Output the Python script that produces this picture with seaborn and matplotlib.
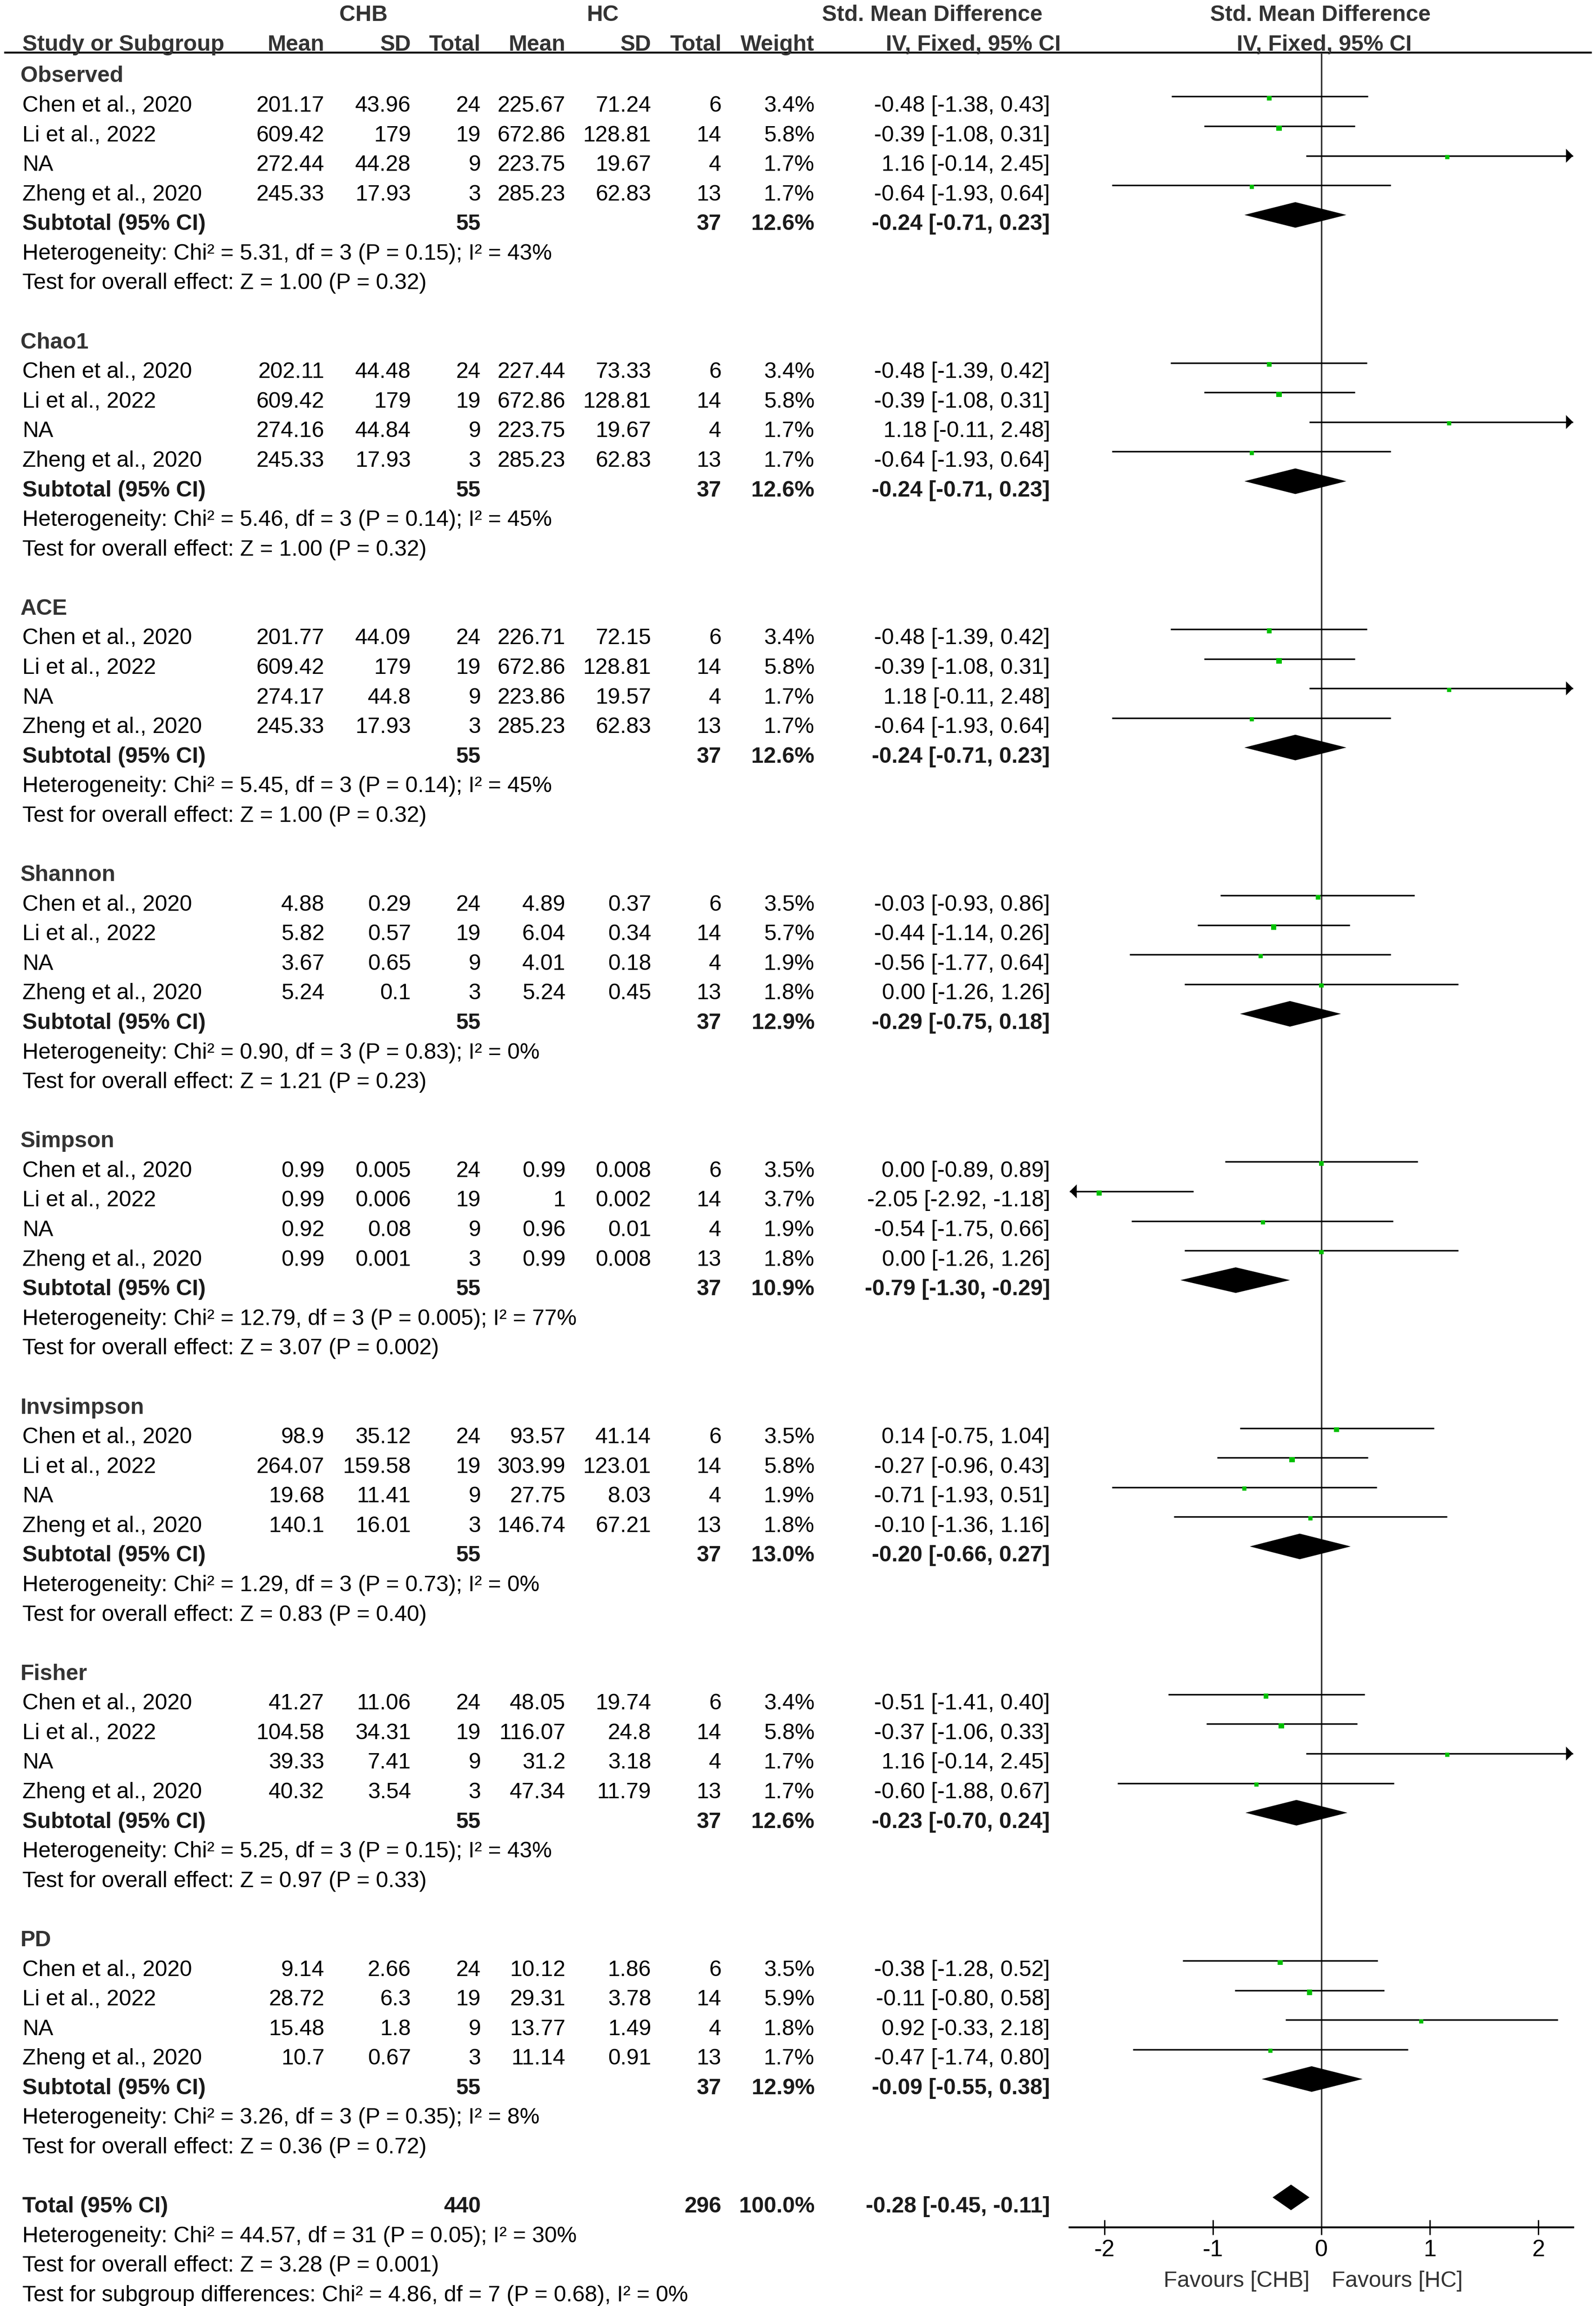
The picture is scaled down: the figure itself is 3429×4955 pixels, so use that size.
import numpy as np
import matplotlib.pyplot as plt
import seaborn as sns

# DATA
groups = ["Observed", "Chao1", "ACE", "Shannon", "Simpson", "Invsimpson", "Fisher", "PD"]
studies = ["Chen et al., 2020", "Li et al., 2022", "NA", "Zheng et al., 2020"]

chb_mean = [[201.17, 609.42, 272.44, 245.33], [202.11, 609.42, 274.16, 245.33],
            [201.77, 609.42, 274.17, 245.33], [4.88, 5.82, 3.67, 5.24],
            [0.99, 0.99, 0.92, 0.99], [98.9, 264.07, 19.68, 140.1],
            [41.27, 104.58, 39.33, 40.32], [9.14, 28.72, 15.48, 10.7]]
chb_sd = [[43.96, 179, 44.28, 17.93], [44.48, 179, 44.84, 17.93],
          [44.09, 179, 44.8, 17.93], [0.29, 0.57, 0.65, 0.1],
          [0.005, 0.006, 0.08, 0.001], [35.12, 159.58, 11.41, 16.01],
          [11.06, 34.31, 7.41, 3.54], [2.66, 6.3, 1.8, 0.67]]
chb_n = [24, 19, 9, 3]
hc_mean = [[225.67, 672.86, 223.75, 285.23], [227.44, 672.86, 223.75, 285.23],
           [226.71, 672.86, 223.86, 285.23], [4.89, 6.04, 4.01, 5.24],
           [0.99, 1, 0.96, 0.99], [93.57, 303.99, 27.75, 146.74],
           [48.05, 116.07, 31.2, 47.34], [10.12, 29.31, 13.77, 11.14]]
hc_sd = [[71.24, 128.81, 19.67, 62.83], [73.33, 128.81, 19.67, 62.83],
         [72.15, 128.81, 19.57, 62.83], [0.37, 0.34, 0.18, 0.45],
         [0.008, 0.002, 0.01, 0.008], [41.14, 123.01, 8.03, 67.21],
         [19.74, 24.8, 3.18, 11.79], [1.86, 3.78, 1.49, 0.91]]
hc_n = [6, 14, 4, 13]

weight = [[3.4, 5.8, 1.7, 1.7], [3.4, 5.8, 1.7, 1.7], [3.4, 5.8, 1.7, 1.7],
          [3.5, 5.7, 1.9, 1.8], [3.5, 3.7, 1.9, 1.8], [3.5, 5.8, 1.9, 1.8],
          [3.4, 5.8, 1.7, 1.7], [3.5, 5.9, 1.8, 1.7]]
smd = [[-0.48, -0.39, 1.16, -0.64], [-0.48, -0.39, 1.18, -0.64],
       [-0.48, -0.39, 1.18, -0.64], [-0.03, -0.44, -0.56, 0.00],
       [0.00, -2.05, -0.54, 0.00], [0.14, -0.27, -0.71, -0.10],
       [-0.51, -0.37, 1.16, -0.60], [-0.38, -0.11, 0.92, -0.47]]
ci_lo = [[-1.38, -1.08, -0.14, -1.93], [-1.39, -1.08, -0.11, -1.93],
         [-1.39, -1.08, -0.11, -1.93], [-0.93, -1.14, -1.77, -1.26],
         [-0.89, -2.92, -1.75, -1.26], [-0.75, -0.96, -1.93, -1.36],
         [-1.41, -1.06, -0.14, -1.88], [-1.28, -0.80, -0.33, -1.74]]
ci_hi = [[0.43, 0.31, 2.45, 0.64], [0.42, 0.31, 2.48, 0.64],
         [0.42, 0.31, 2.48, 0.64], [0.86, 0.26, 0.64, 1.26],
         [0.89, -1.18, 0.66, 1.26], [1.04, 0.43, 0.51, 1.16],
         [0.40, 0.33, 2.45, 0.67], [0.52, 0.58, 2.18, 0.80]]

sub_chb_n = 55
sub_hc_n = 37
sub_weight = [12.6, 12.6, 12.6, 12.9, 10.9, 13.0, 12.6, 12.9]
sub_smd = [-0.24, -0.24, -0.24, -0.29, -0.79, -0.20, -0.23, -0.09]
sub_lo = [-0.71, -0.71, -0.71, -0.75, -1.30, -0.66, -0.70, -0.55]
sub_hi = [0.23, 0.23, 0.23, 0.18, -0.29, 0.27, 0.24, 0.38]
het_chi = ["5.31", "5.46", "5.45", "0.90", "12.79", "1.29", "5.25", "3.26"]
het_p = ["0.15", "0.14", "0.14", "0.83", "0.005", "0.73", "0.15", "0.35"]
het_i2 = ["43", "45", "45", "0", "77", "0", "43", "8"]
z_val = ["1.00", "1.00", "1.00", "1.21", "3.07", "0.83", "0.97", "0.36"]
z_p = ["0.32", "0.32", "0.32", "0.23", "0.002", "0.40", "0.33", "0.72"]

total_chb_n = 440
total_hc_n = 296
total_smd = -0.28
total_lo = -0.45
total_hi = -0.11
total_notes = ["Heterogeneity: Chi\u00b2 = 44.57, df = 31 (P = 0.05); I\u00b2 = 30%",
               "Test for overall effect: Z = 3.28 (P = 0.001)",
               "Test for subgroup differences: Chi\u00b2 = 4.86, df = 7 (P = 0.68), I\u00b2 = 0%"]

x_ticks = [-2, -1, 0, 1, 2]

# STYLE / LAYOUT (pixel units of the 3429 x 4955 canvas)
sns.set_theme(style="white")
plt.rcParams['font.family'] = ['Liberation Sans', 'DejaVu Sans']

W, H = 3429, 4955
FS = 11.5
ROW0, ROWH = 159.4, 63.58
BASE = 17          # baseline offset from text centre
MARK = -15.5       # marks sit a bit above the text centre
X0, UNIT = 2839, 233
XLIM = (-2.32, 2.32)
GREEN = "#00C000"
DARK = "#333333"

col_right = [697, 883, 1033, 1215, 1399, 1550, 1750]
ci_right = 2256


def row_y(r):
    return ROW0 + ROWH * r


def fmt_ci(e, lo, hi):
    return f"{e:.2f} [{lo:.2f}, {hi:.2f}]"


fig = plt.figure(figsize=(W / 300, H / 300), dpi=300)
ax = fig.add_axes([0, 0, 1, 1])
ax.set_xlim(0, W)
ax.set_ylim(H, 0)
ax.axis("off")

left = (X0 + XLIM[0] * UNIT) / W
width = (XLIM[1] - XLIM[0]) * UNIT / W
fa = fig.add_axes([left, 0, width, 1])
fa.set_xlim(*XLIM)
fa.set_ylim(H, 0)
fa.patch.set_alpha(0)


def txt(x, y, s, ha="left", bold=False, color="black", size=FS):
    ax.text(x, y + BASE, s, ha=ha, va="baseline", fontsize=size,
            fontweight="bold" if bold else "normal", color=color)


# header
hy1 = 28
hy2 = 92
txt(781, hy1, "CHB", ha="center", bold=True, color=DARK)
txt(1295, hy1, "HC", ha="center", bold=True, color=DARK)
txt(2240, hy1, "Std. Mean Difference", ha="right", bold=True, color=DARK)
txt(2837, hy1, "Std. Mean Difference", ha="center", bold=True, color=DARK)
txt(48, hy2, "Study or Subgroup", bold=True, color=DARK)
for xr, lab in zip(col_right, ["Mean", "SD", "Total", "Mean", "SD", "Total", "Weight"]):
    txt(xr, hy2, lab, ha="right", bold=True, color=DARK)
txt(2279, hy2, "IV, Fixed, 95% CI", ha="right", bold=True, color=DARK)
txt(2845, hy2, "IV, Fixed, 95% CI", ha="center", bold=True, color=DARK)
ax.hlines(113, 9, 3420, color="black", lw=1.0)

# forest axis
axis_y = 4786
fa.vlines(0, 113, axis_y, color=DARK, lw=0.8)
for s in ["top", "left", "right"]:
    fa.spines[s].set_visible(False)
fa.spines["bottom"].set_position(("data", axis_y))
fa.spines["bottom"].set_linewidth(1.0)
fa.spines["bottom"].set_color("black")
fa.set_xticks(x_ticks)
fa.set_xticklabels([str(t) for t in x_ticks])
fa.tick_params(axis="x", direction="inout", length=7.7, width=0.7, pad=2.5,
               labelsize=12, colors="black", bottom=True)
fa.set_yticks([])
fa.grid(False)

ax.text(2814, 4897 + BASE, "Favours [CHB]", ha="right", va="baseline",
        fontsize=FS, color=DARK)
ax.text(2861, 4897 + BASE, "Favours [HC]", ha="left", va="baseline",
        fontsize=FS, color=DARK)

arrow_len = 15 / UNIT
arrow_half = 15
dia_half = 27.5


def draw_study(e, lo, hi, w, y):
    ym = y + MARK
    lo_c, hi_c = max(lo, XLIM[0]), min(hi, XLIM[1])
    fa.hlines(ym, lo_c, hi_c, color="black", lw=0.8)
    if hi > XLIM[1]:
        fa.fill([XLIM[1], XLIM[1] - arrow_len, XLIM[1] - arrow_len],
                [ym, ym - arrow_half, ym + arrow_half], color="black", lw=0)
    if lo < XLIM[0]:
        fa.fill([XLIM[0], XLIM[0] + arrow_len, XLIM[0] + arrow_len],
                [ym, ym - arrow_half, ym + arrow_half], color="black", lw=0)
    side = 6 + 2.3 * np.sqrt(w)
    fa.bar(e, side, width=side / UNIT, bottom=ym - 1.5, color=GREEN, lw=0, zorder=3)


def draw_diamond(e, lo, hi, y):
    ym = y + MARK
    fa.fill([lo, e, hi, e], [ym, ym - dia_half, ym, ym + dia_half],
            color="black", lw=0, zorder=3)


for g, name in enumerate(groups):
    r0 = g * 9
    txt(44, row_y(r0), name, bold=True, color=DARK)
    for i, st in enumerate(studies):
        y = row_y(r0 + 1 + i)
        txt(48, y, st)
        vals = [chb_mean[g][i], chb_sd[g][i], chb_n[i], hc_mean[g][i],
                hc_sd[g][i], hc_n[i], f"{weight[g][i]:.1f}%"]
        for xr, v in zip(col_right, vals):
            txt(xr, y, str(v), ha="right")
        txt(ci_right, y, fmt_ci(smd[g][i], ci_lo[g][i], ci_hi[g][i]), ha="right")
        draw_study(smd[g][i], ci_lo[g][i], ci_hi[g][i], weight[g][i], y)
    y = row_y(r0 + 5)
    txt(48, y, "Subtotal (95% CI)", bold=True, color="#1a1a1a")
    txt(col_right[2], y, str(sub_chb_n), ha="right", bold=True, color="#1a1a1a")
    txt(col_right[5], y, str(sub_hc_n), ha="right", bold=True, color="#1a1a1a")
    txt(col_right[6], y, f"{sub_weight[g]:.1f}%", ha="right", bold=True, color="#1a1a1a")
    txt(ci_right, y, fmt_ci(sub_smd[g], sub_lo[g], sub_hi[g]), ha="right",
        bold=True, color="#1a1a1a")
    draw_diamond(sub_smd[g], sub_lo[g], sub_hi[g], y)
    txt(48, row_y(r0 + 6),
        f"Heterogeneity: Chi\u00b2 = {het_chi[g]}, df = 3 (P = {het_p[g]}); I\u00b2 = {het_i2[g]}%")
    txt(48, row_y(r0 + 7), f"Test for overall effect: Z = {z_val[g]} (P = {z_p[g]})")

# overall total
y = row_y(72)
txt(48, y, "Total (95% CI)", bold=True, color="#1a1a1a")
txt(col_right[2], y, str(total_chb_n), ha="right", bold=True, color="#1a1a1a")
txt(col_right[5], y, str(total_hc_n), ha="right", bold=True, color="#1a1a1a")
txt(col_right[6], y, "100.0%", ha="right", bold=True, color="#1a1a1a")
txt(ci_right, y, fmt_ci(total_smd, total_lo, total_hi), ha="right", bold=True, color="#1a1a1a")
draw_diamond(total_smd, total_lo, total_hi, y)
for k, note in enumerate(total_notes):
    txt(48, row_y(73 + k), note)

fig.savefig("out.png", dpi=300, facecolor="white")
